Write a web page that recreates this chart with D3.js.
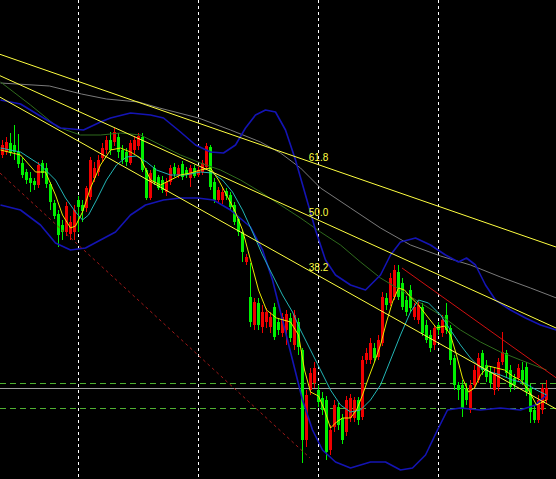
<!DOCTYPE html>
<html>
<head>
<meta charset="utf-8">
<script src="https://cdn.jsdelivr.net/npm/d3@7"></script>
<style>
  html, body { margin: 0; padding: 0; background: #000; overflow: hidden; }
  svg { display: block; }
</style>
</head>
<body>
<svg id="chart" width="556" height="479"></svg>
<script>
// ---- price bars (bar index 0..136) ----
const opens = [1.1345,1.1348,1.1357,1.1355,1.1348,1.1337,1.1328,1.1322,1.1319,1.1315,1.1337,1.1332,1.1316,1.1297,1.1286,1.1275,1.1268,1.1266,1.1268,1.1300,
  1.1295,1.1292,1.1303,1.1322,1.1328,1.1342,1.1350,1.1360,1.1358,1.1363,1.1350,1.1348,1.1337,1.1350,1.1354,1.1363,1.1330,1.1302,1.1332,1.1323,
  1.1320,1.1308,1.1318,1.1333,1.1325,1.1336,1.1330,1.1322,1.1332,1.1325,1.1328,1.1333,1.1353,1.1318,1.1300,1.1300,1.1309,1.1305,1.1295,1.1281,
  1.1268,1.1238,1.1203,1.1175,1.1197,1.1173,1.1178,1.1173,1.1193,1.1178,1.1167,1.1170,1.1182,1.1155,1.1178,1.1150,1.1060,1.1110,1.1117,1.1110,
  1.1102,1.1100,1.1050,1.1073,1.1093,1.1082,1.1068,1.1082,1.1082,1.1100,1.1083,1.1140,1.1140,1.1152,1.1143,1.1157,1.1202,1.1197,1.1203,1.1228,
  1.1217,1.1200,1.1210,1.1183,1.1180,1.1193,1.1175,1.1165,1.1155,1.1175,1.1167,1.1185,1.1172,1.1142,1.1115,1.1115,1.1112,1.1090,1.1115,1.1120,
  1.1147,1.1135,1.1128,1.1110,1.1113,1.1138,1.1147,1.1130,1.1122,1.1122,1.1130,1.1133,1.1112,1.1090,1.1080,1.1090,1.1100];
const highs = [1.1360,1.1363,1.1367,1.1375,1.1366,1.1342,1.1331,1.1328,1.1322,1.1338,1.1340,1.1337,1.1318,1.1300,1.1290,1.1280,1.1298,1.1284,1.1295,1.1304,
  1.1300,1.1314,1.1343,1.1338,1.1345,1.1357,1.1364,1.1368,1.1372,1.1367,1.1355,1.1352,1.1360,1.1364,1.1367,1.1367,1.1332,1.1330,1.1335,1.1325,
  1.1324,1.1322,1.1335,1.1337,1.1335,1.1339,1.1333,1.1335,1.1335,1.1333,1.1340,1.1357,1.1355,1.1322,1.1313,1.1312,1.1312,1.1308,1.1298,1.1284,
  1.1270,1.1246,1.1237,1.1202,1.1202,1.1195,1.1192,1.1188,1.1197,1.1182,1.1187,1.1190,1.1187,1.1190,1.1182,1.1152,1.1110,1.1132,1.1138,1.1115,
  1.1108,1.1104,1.1075,1.1100,1.1097,1.1086,1.1104,1.1106,1.1103,1.1103,1.1144,1.1152,1.1162,1.1157,1.1165,1.1208,1.1207,1.1227,1.1235,1.1235,
  1.1222,1.1204,1.1215,1.1197,1.1200,1.1197,1.1180,1.1170,1.1175,1.1178,1.1185,1.1197,1.1175,1.1145,1.1118,1.1120,1.1117,1.1120,1.1135,1.1147,
  1.1150,1.1140,1.1133,1.1132,1.1142,1.1168,1.1150,1.1135,1.1126,1.1136,1.1138,1.1138,1.1116,1.1095,1.1105,1.1116,1.1120];
const lows = [1.1342,1.1345,1.1344,1.1340,1.1332,1.1322,1.1316,1.1308,1.1310,1.1312,1.1322,1.1312,1.1290,1.1281,1.1253,1.1260,1.1264,1.1260,1.1260,1.1268,
  1.1278,1.1288,1.1300,1.1318,1.1324,1.1338,1.1346,1.1345,1.1354,1.1342,1.1336,1.1334,1.1335,1.1346,1.1350,1.1328,1.1300,1.1300,1.1315,1.1310,
  1.1307,1.1304,1.1315,1.1323,1.1322,1.1320,1.1322,1.1313,1.1322,1.1323,1.1325,1.1331,1.1310,1.1297,1.1297,1.1296,1.1300,1.1290,1.1275,1.1264,
  1.1238,1.1235,1.1173,1.1170,1.1170,1.1167,1.1172,1.1167,1.1160,1.1165,1.1163,1.1155,1.1158,1.1150,1.1145,1.1037,1.1053,1.1105,1.1112,1.1093,
  1.1085,1.1040,1.1045,1.1068,1.1070,1.1056,1.1064,1.1078,1.1078,1.1075,1.1080,1.1136,1.1136,1.1138,1.1140,1.1154,1.1190,1.1194,1.1200,1.1200,
  1.1190,1.1184,1.1188,1.1180,1.1176,1.1164,1.1157,1.1148,1.1150,1.1165,1.1163,1.1166,1.1135,1.1110,1.1100,1.1083,1.1095,1.1087,1.1112,1.1117,
  1.1125,1.1118,1.1112,1.1105,1.1109,1.1135,1.1123,1.1108,1.1110,1.1118,1.1115,1.1104,1.1077,1.1077,1.1077,1.1086,1.1097];
const closes = [1.1355,1.1358,1.1347,1.1348,1.1336,1.1325,1.1320,1.1317,1.1315,1.1335,1.1327,1.1316,1.1298,1.1284,1.1265,1.1268,1.1294,1.1278,1.1290,1.1293,
  1.1289,1.1312,1.1340,1.1332,1.1340,1.1352,1.1360,1.1350,1.1368,1.1348,1.1340,1.1338,1.1357,1.1360,1.1364,1.1330,1.1302,1.1327,1.1318,1.1312,
  1.1310,1.1318,1.1332,1.1326,1.1332,1.1323,1.1325,1.1332,1.1324,1.1330,1.1337,1.1354,1.1313,1.1300,1.1310,1.1308,1.1304,1.1293,1.1278,1.1268,
  1.1248,1.1243,1.1178,1.1198,1.1175,1.1188,1.1188,1.1183,1.1163,1.1170,1.1183,1.1186,1.1162,1.1185,1.1153,1.1060,1.1105,1.1127,1.1132,1.1098,
  1.1090,1.1048,1.1070,1.1095,1.1075,1.1060,1.1100,1.1102,1.1100,1.1080,1.1140,1.1147,1.1157,1.1142,1.1160,1.1203,1.1195,1.1222,1.1230,1.1203,
  1.1193,1.1188,1.1192,1.1193,1.1195,1.1167,1.1160,1.1152,1.1172,1.1170,1.1180,1.1170,1.1140,1.1115,1.1110,1.1092,1.1100,1.1115,1.1130,1.1142,
  1.1130,1.1123,1.1117,1.1127,1.1138,1.1148,1.1127,1.1113,1.1115,1.1132,1.1120,1.1108,1.1088,1.1080,1.1100,1.1112,1.1112];

// ---- vertical time grid (bar indices) ----
const gridBars = [19, 49, 79, 109];

// ---- horizontal price levels ----
const levelPrices = [1.1117, 1.1092];
const bidPrice = 1.1112;

// ---- indicators: [bar index, price] ----
const fastMA = [[-0.5,1.1350],[4.5,1.1345],[8.25,1.1328],[10.75,1.1328],[13.25,1.1305],[15,1.1285],[17,1.1272],[18.25,1.1274],[20,1.1288],[22,1.1312],
  [24.5,1.1335],[27,1.1350],[29.5,1.1352],[32,1.1348],[34.5,1.1342],[37,1.1320],[39.5,1.1315],[42,1.1320],[44.5,1.1325],[47,1.1327],[49.5,1.1330],
  [52,1.1332],[54,1.1320],[56,1.1305],[58,1.1290],[60,1.1270],[62,1.1240],[64,1.1210],[66,1.1190],[68.5,1.1182],[72,1.1178],[74,1.1165],[75.5,1.1130],
  [77,1.1108],[79,1.1104],[80.5,1.1090],[82,1.1072],[83.5,1.1078],[85,1.1082],[87,1.1082],[88.5,1.1090],[90,1.1105],[91.5,1.1122],[93,1.1138],
  [94.5,1.1155],[96,1.1178],[97.5,1.1198],[99,1.1212],[100.5,1.1210],[102,1.1203],[104,1.1195],[106.5,1.1182],[108.5,1.1172],[110.5,1.1174],
  [112,1.1165],[113.5,1.1145],[115,1.1122],[116.5,1.1108],[118,1.1112],[119.5,1.1125],[121.5,1.1134],[123.5,1.1132],[125.5,1.1130],[127.5,1.1124],
  [129.5,1.1120],[131.5,1.1110],[133.5,1.1095],[136,1.1100]];
const slowMA = [[-0.5,1.1352],[4.5,1.1348],[9.5,1.1335],[13.25,1.1320],[15.75,1.1302],[18.25,1.1288],[20,1.1280],[21.5,1.1285],[23.5,1.1300],[26,1.1320],
  [28.5,1.1335],[31,1.1343],[33.5,1.1344],[36,1.1338],[38.5,1.1330],[42,1.1325],[45.75,1.1325],[49.5,1.1328],[52.5,1.1327],[55,1.1320],[57.5,1.1308],
  [60,1.1290],[62.5,1.1268],[65,1.1245],[67.5,1.1225],[70,1.1205],[72.5,1.1188],[74.5,1.1170],[77,1.1150],[79.5,1.1130],[82,1.1110],[84.5,1.1095],
  [87,1.1088],[89.5,1.1090],[92,1.1100],[94.5,1.1115],[97,1.1140],[99.5,1.1165],[102,1.1188],[104,1.1200],[106.5,1.1197],[109.5,1.1185],[112,1.1170],
  [114.5,1.1155],[117,1.1142],[119.5,1.1132],[122,1.1128],[124.5,1.1125],[127.5,1.1120],[130.5,1.1117],[133.5,1.1110],[136,1.1105]];
const trendMA = [[-0.5,1.1418],[7,1.1395],[13.75,1.1373],[19.5,1.1365],[24.5,1.1365],[29.5,1.1367],[34.5,1.1365],[39.5,1.1355],[44.5,1.1345],[49.5,1.1337],
  [54.5,1.1330],[59.5,1.1320],[64.5,1.1308],[69.5,1.1295],[74.5,1.1282],[79.5,1.1268],[84.5,1.1255],[89.5,1.1238],[94.5,1.1222],[99.5,1.1210],
  [104.5,1.1197],[109.5,1.1185],[114.5,1.1170],[119.5,1.1158],[124.5,1.1148],[129.5,1.1140],[136,1.1130]];
const longMA = [[-0.5,1.1417],[11.75,1.1414],[19.75,1.1406],[26,1.1401],[34,1.1398],[39.25,1.1392],[49,1.1382],[57,1.1370],[64.5,1.1358],[69.5,1.1347],
  [74.5,1.1332],[79.5,1.1312],[87,1.1292],[94.5,1.1272],[102,1.1255],[109.5,1.1244],[117,1.1235],[124.5,1.1223],[132,1.1212],[138.5,1.1202]];
const bandUpper = [[-0.5,1.1400],[4.5,1.1396],[10.25,1.1382],[14.5,1.1372],[20.25,1.1370],[24.5,1.1378],[27,1.1382],[32,1.1387],[37,1.1385],[40.25,1.1382],
  [44.5,1.1368],[48.25,1.1355],[52,1.1348],[55.25,1.1347],[58.25,1.1355],[60.75,1.1372],[63.25,1.1385],[65.75,1.1390],[68.25,1.1388],[70.75,1.1370],
  [73.25,1.1340],[75.75,1.1305],[78.25,1.1270],[80.75,1.1240],[83.25,1.1225],[87,1.1215],[90.75,1.1210],[94.5,1.1225],[97,1.1245],[99.5,1.1258],
  [103.25,1.1262],[107,1.1255],[110.75,1.1245],[114,1.1238],[116,1.1242],[118.25,1.1235],[120.75,1.1215],[123.25,1.1200],[127,1.1190],[130.75,1.1182],
  [134.5,1.1175],[138.5,1.1170]];
const bandLower = [[-0.5,1.1295],[4.5,1.1290],[9.5,1.1275],[13.25,1.1257],[17,1.1250],[20.75,1.1252],[24.5,1.1260],[28.25,1.1268],[32,1.1285],[35.75,1.1295],
  [40.25,1.1300],[44.5,1.1302],[48.75,1.1302],[52.75,1.1300],[57,1.1290],[62,1.1273],[65,1.1250],[67.5,1.1220],[70,1.1180],[72.5,1.1140],[75,1.1100],
  [77.5,1.1070],[80,1.1050],[83.25,1.1038],[87,1.1032],[92,1.1038],[95.75,1.1038],[99.5,1.1030],[102.5,1.1032],[105.75,1.1045],[108.75,1.1070],
  [111.25,1.1090],[114.5,1.1092],[119.5,1.1090],[124.5,1.1092],[129.5,1.1090],[133.25,1.1095],[136,1.1105]];

// ---- drawing objects ----
const fanHigh = [-50.5, 1.1515];
const fanLow = [79, 1.1045];
const fanLevels = [0.382, 0.5, 0.618];
const fanLabels = ["38.2", "50.0", "61.8"];
const channelRay = [[100, 1.1232], [120, 1.1175]];
const supportLine = [[-0.5, 1.1327], [77, 1.1042]];

// ---- scales ----
const W = 556, H = 479;
const x = d3.scaleLinear().domain([0, 136]).range([2, 546]);
const y = d3.scaleLinear().domain([1.1021, 1.1500]).range([H, 0]);

const svg = d3.select("#chart");
svg.append("rect").attr("width", W).attr("height", H).attr("fill", "#000");

// vertical grid
svg.append("g").selectAll("line").data(gridBars).join("line")
  .attr("x1", d => Math.round(x(d)) + 0.5).attr("x2", d => Math.round(x(d)) + 0.5)
  .attr("y1", 0).attr("y2", H)
  .attr("stroke", "#ffffff").attr("stroke-width", 1).attr("stroke-dasharray", "3,3");

// horizontal levels
svg.append("g").selectAll("line").data(levelPrices).join("line")
  .attr("x1", 0).attr("x2", W)
  .attr("y1", d => Math.round(y(d)) + 0.5).attr("y2", d => Math.round(y(d)) + 0.5)
  .attr("stroke", "#4fb030").attr("stroke-width", 1).attr("stroke-dasharray", "6,4");
svg.append("line")
  .attr("x1", 0).attr("x2", W)
  .attr("y1", Math.round(y(bidPrice)) + 0.5).attr("y2", Math.round(y(bidPrice)) + 0.5)
  .attr("stroke", "#a0a0a0").attr("stroke-width", 1);

// candles: red = close above open, green = close below open
const bars = d3.range(opens.length).map(i => ({ i, o: opens[i], h: highs[i], l: lows[i], c: closes[i] }));
const candleColor = d => d.c >= d.o ? "#f00000" : "#00f000";
const cg = svg.append("g");
cg.selectAll("rect.wick").data(bars).join("rect").attr("class", "wick")
  .attr("x", d => Math.round(x(d.i)))
  .attr("y", d => Math.round(y(d.h)))
  .attr("width", 1)
  .attr("height", d => Math.max(1, Math.round(y(d.l)) - Math.round(y(d.h))))
  .attr("fill", candleColor);
cg.selectAll("rect.body").data(bars).join("rect").attr("class", "body")
  .attr("x", d => Math.round(x(d.i)) - 1)
  .attr("y", d => Math.round(y(Math.max(d.o, d.c))))
  .attr("width", 3)
  .attr("height", d => Math.max(1, Math.round(y(Math.min(d.o, d.c))) - Math.round(y(Math.max(d.o, d.c)))))
  .attr("fill", candleColor);

// indicator lines
const line = d3.line().x(d => x(d[0]) + 0.5).y(d => y(d[1]));
const series = [
  { data: longMA, color: "#7a7a7a", w: 1 },
  { data: trendMA, color: "#2f6b1c", w: 1 },
  { data: bandUpper, color: "#1414b4", w: 1.6 },
  { data: bandLower, color: "#1414b4", w: 1.6 },
  { data: slowMA, color: "#22b5b5", w: 1 },
  { data: fastMA, color: "#e8e800", w: 1 }
];
svg.append("g").selectAll("path").data(series).join("path")
  .attr("d", d => line(d.data))
  .attr("fill", "none")
  .attr("stroke", d => d.color)
  .attr("stroke-width", d => d.w)
  .attr("stroke-linejoin", "round");

// Fibonacci fan from the swing high through retracement points at the swing low's bar
const fanG = svg.append("g");
const xEnd = x.invert(W + 2);
fanLevels.forEach((r, k) => {
  const pAt = fanLow[1] + r * (fanHigh[1] - fanLow[1]);
  const slope = (pAt - fanHigh[1]) / (fanLow[0] - fanHigh[0]);
  const pEnd = fanHigh[1] + slope * (xEnd - fanHigh[0]);
  fanG.append("line")
    .attr("x1", x(fanHigh[0])).attr("y1", y(fanHigh[1]))
    .attr("x2", x(xEnd)).attr("y2", y(pEnd))
    .attr("stroke", "#ffff40").attr("stroke-width", 1);
  fanG.append("text")
    .attr("x", x(fanLow[0]) + 0.5).attr("y", y(pAt) - 4)
    .attr("text-anchor", "middle")
    .attr("font-family", "Liberation Sans, Arial, sans-serif")
    .attr("font-size", 10)
    .attr("fill", "#ffff40")
    .text(fanLabels[k]);
});

// red trend ray
{
  const [a, b] = channelRay;
  const slope = (b[1] - a[1]) / (b[0] - a[0]);
  const pEnd = a[1] + slope * (xEnd - a[0]);
  svg.append("line")
    .attr("x1", x(a[0])).attr("y1", y(a[1]))
    .attr("x2", x(xEnd)).attr("y2", y(pEnd))
    .attr("stroke", "#d01010").attr("stroke-width", 1);
}
// dotted red support line
svg.append("line")
  .attr("x1", x(supportLine[0][0])).attr("y1", y(supportLine[0][1]))
  .attr("x2", x(supportLine[1][0])).attr("y2", y(supportLine[1][1]))
  .attr("stroke", "#a01818").attr("stroke-width", 1).attr("stroke-dasharray", "3,3");
</script>
</body>
</html>
